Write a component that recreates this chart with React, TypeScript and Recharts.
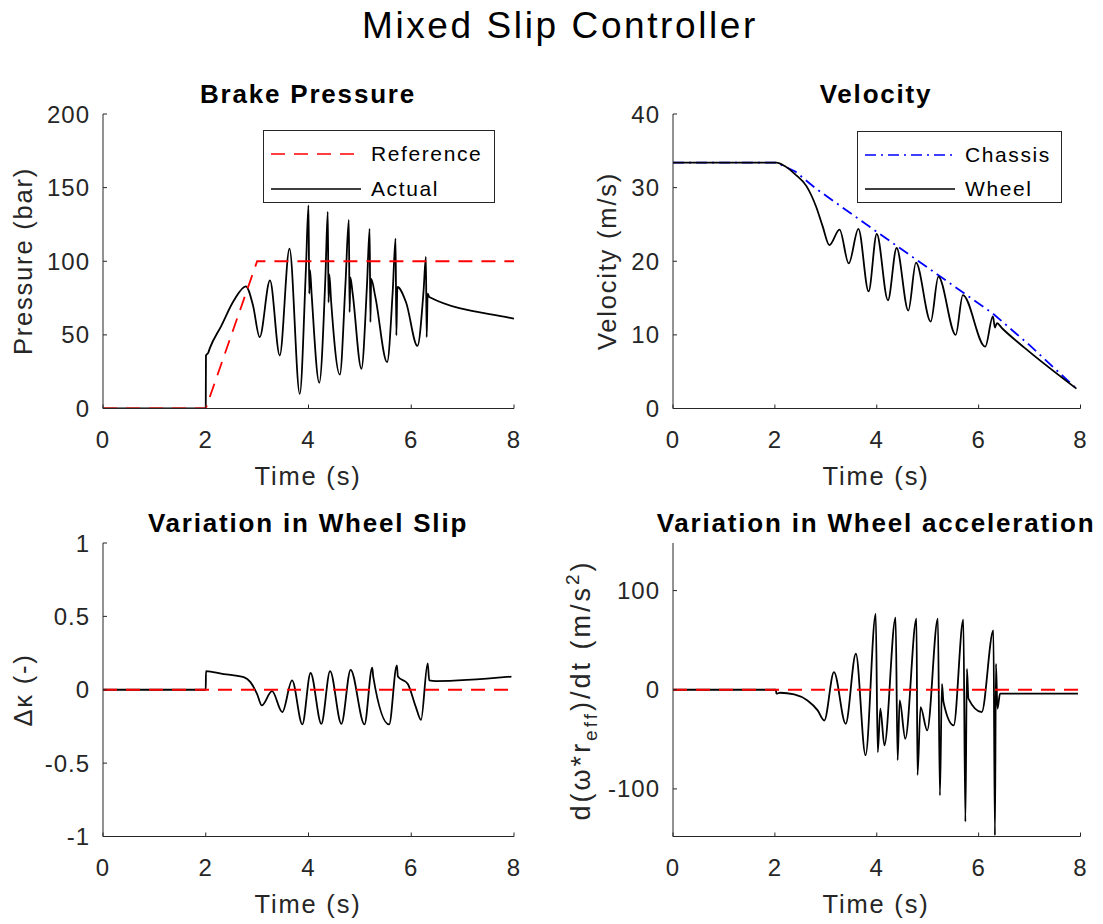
import React from "react";
import { Legend, Line, LineChart, XAxis, YAxis } from "recharts";

const FONT = '"Liberation Sans", Arial, Helvetica, sans-serif';
const INK = "#262626";

const timeTicks = [0, 2, 4, 6, 8];

// Brake pressure (bar)
const refTime = [0, 2, 3, 8];
const refPressure = [0, 0, 100, 100];
const pressureTime = [
  0, 2.0, 2.004, 2.05, 2.08, 2.3, 2.55, 2.78, 2.92, 3.05, 3.25, 3.44, 3.63, 3.83, 3.95, 4.0, 4.015, 4.03, 4.06, 4.21,
  4.33, 4.375, 4.39, 4.405, 4.44, 4.61, 4.72, 4.785, 4.8, 4.815, 4.86, 5.03, 5.14, 5.19, 5.205, 5.22, 5.3, 5.53, 5.64,
  5.695, 5.71, 5.73, 5.9, 6.12, 6.24, 6.285, 6.3, 6.32, 6.35, 7.9, 8.0,
];
const pressureActual = [
  0, 0, 36, 38, 41, 56, 73.5, 83, 70, 48.5, 87, 36, 108.6, 10, 95, 138, 78, 94, 78, 17.5, 90, 133.5, 72, 91, 73, 23,
  85, 128, 65.5, 89, 78, 27, 85, 122, 58.7, 88, 76, 31.5, 80, 115.4, 49.6, 82.5, 72, 42.5, 80, 103, 48.5, 78, 75.7,
  61.7, 61,
];

// Velocity (m/s)
const chassisTime = [0, 2.03, 2.4, 2.8, 4.0, 6.28, 7.0, 7.92];
const chassisSpeed = [33.4, 33.4, 32.2, 29.9, 24.0, 12.9, 8.6, 2.7];
const wheelTime = [
  0, 2.03, 2.2, 2.4, 2.62, 2.81, 2.94, 3.07, 3.27, 3.45, 3.64, 3.84, 4.0, 4.22, 4.39, 4.62, 4.77, 5.06, 5.21, 5.55,
  5.69, 6.13, 6.28, 6.32, 6.36, 6.46, 6.91, 7.92,
];
const wheelSpeed = [
  33.4, 33.4, 32.9, 31.8, 30.2, 27.4, 24.7, 22.2, 24.3, 19.7, 24.4, 15.9, 23.7, 14.7, 21.8, 13.3, 19.8, 11.8, 17.9,
  10.0, 15.4, 8.4, 12.5, 11.0, 11.6, 10.9, 8.2, 2.7,
];

// Wheel slip variation (-)
const zeroTime = [0, 8];
const zeroLine = [0, 0];
const slipTime = [
  0, 2.0, 2.004, 2.05, 2.4, 2.74, 2.87, 3.0, 3.09, 3.29, 3.49, 3.68, 3.88, 4.04, 4.25, 4.42, 4.64, 4.82, 5.09, 5.24,
  5.26, 5.57, 5.72, 5.74, 5.93, 6.09, 6.19, 6.32, 6.35, 6.48, 7.95,
];
const slipValue = [
  0, 0, 0.127, 0.125, 0.105, 0.086, 0.052, -0.03, -0.107, -0.01, -0.152, 0.064, -0.236, 0.114, -0.232, 0.127, -0.232,
  0.136, -0.236, 0.15, 0.09, -0.236, 0.166, 0.09, 0.041, -0.118, -0.205, 0.18, 0.064, 0.059, 0.09,
];

// Wheel acceleration variation (m/s^2)
const accTime = [
  0, 2.02, 2.03, 2.1, 2.38, 2.64, 2.84, 2.97, 3.16, 3.39, 3.59, 3.78, 3.98, 4.02, 4.07, 4.15, 4.37, 4.41, 4.45, 4.56,
  4.78, 4.8, 4.86, 4.99, 5.2, 5.24, 5.28, 5.31, 5.51, 5.7, 5.74, 5.77, 5.8, 6.06, 6.29, 6.32, 6.34, 6.37, 6.42, 7.95,
];
const accValue = [
  0, 0, -4, -3, -4.7, -10.8, -20.8, -31, 17.8, -34.3, 36.3, -66, 76.6, -63, -19, -56, 72.6, -71, -10.8, -49.4, 71.6,
  -86, -17.5, -41, 71.6, -106.6, 6, -12.4, -36, 70.6, -133, 21, -9, -22.5, 59.8, -147, 26, -19, -4, -4,
];

type Pt = { t: number; v: number };
const zip = (t: number[], v: number[]): Pt[] => t.map((x, i) => ({ t: x, v: v[i] }));

interface SeriesDef {
  name: string;
  points: Pt[];
  color: string;
  dash?: string;
  curve: "linear" | "monotoneX";
}

interface LegendBox {
  left: number;
  top: number;
  width: number;
  height: number;
  rows: number[];
}

interface PanelProps {
  x: number;
  y: number;
  w: number;
  h: number;
  yDomain: [number, number];
  yTicks: number[];
  series: SeriesDef[];
  legendItems?: SeriesDef[];
  legend?: LegendBox;
}

const PAD_L = 100;
const PAD_T = 20;
const PAD_R = 20;
const PAD_B = 60;

const RED_DASH = "14 9";
const BLUE_DASHDOT = "11 5 2 5";

const actual: SeriesDef = { name: "Actual", points: zip(pressureTime, pressureActual), color: "#000", curve: "monotoneX" };
const reference: SeriesDef = { name: "Reference", points: zip(refTime, refPressure), color: "#ff0000", dash: RED_DASH, curve: "linear" };
const chassis: SeriesDef = { name: "Chassis", points: zip(chassisTime, chassisSpeed), color: "#0000ff", dash: BLUE_DASHDOT, curve: "linear" };
const wheel: SeriesDef = { name: "Wheel", points: zip(wheelTime, wheelSpeed), color: "#000", curve: "monotoneX" };
const slip: SeriesDef = { name: "Slip", points: zip(slipTime, slipValue), color: "#000", curve: "monotoneX" };
const slipZero: SeriesDef = { name: "SlipRef", points: zip(zeroTime, zeroLine), color: "#ff0000", dash: RED_DASH, curve: "linear" };
const acc: SeriesDef = { name: "Acc", points: zip(accTime, accValue), color: "#000", curve: "monotoneX" };
const accZero: SeriesDef = { name: "AccRef", points: zip(zeroTime, zeroLine), color: "#ff0000", dash: RED_DASH, curve: "linear" };

const BoxLegend = ({ items, box }: { items: SeriesDef[]; box: LegendBox }) => (
  <div
    style={{
      position: "relative",
      width: box.width,
      height: box.height,
      boxSizing: "border-box",
      border: `1px solid ${INK}`,
      background: "#fff",
      fontFamily: FONT,
      fontSize: 21,
      letterSpacing: 1.6,
      color: "#000",
    }}
  >
    {items.map((it, i) => (
      <div
        key={it.name}
        style={{ position: "absolute", left: 0, top: box.rows[i] - 15, height: 30, display: "flex", alignItems: "center" }}
      >
        <svg width={107} height={30} style={{ display: "block" }}>
          <line x1={7} x2={97} y1={15} y2={15} stroke={it.color} strokeWidth={1.7} strokeDasharray={it.dash} />
        </svg>
        <span style={{ lineHeight: "30px" }}>{it.name}</span>
      </div>
    ))}
  </div>
);

const Panel = (p: PanelProps) => {
  const ox = p.x - PAD_L;
  const oy = p.y - PAD_T;
  return (
    <div style={{ position: "absolute", left: ox, top: oy }}>
      <LineChart
        width={p.w + PAD_L + PAD_R}
        height={p.h + PAD_T + PAD_B}
        margin={{ top: PAD_T, right: PAD_R, bottom: 0, left: 0 }}
      >
        <XAxis
          type="number"
          dataKey="t"
          domain={[0, 8]}
          ticks={timeTicks}
          interval={0}
          height={PAD_B}
          tickSize={-4}
          tickMargin={26.5}
          axisLine={{ stroke: INK }}
          tickLine={{ stroke: INK }}
          tick={{ fill: INK, fontSize: 24, fontFamily: FONT, letterSpacing: 1 }}
          allowDataOverflow
        />
        <YAxis
          type="number"
          domain={p.yDomain}
          ticks={p.yTicks}
          interval={0}
          width={PAD_L}
          tickSize={-4}
          tickMargin={17}
          axisLine={{ stroke: INK }}
          tickLine={{ stroke: INK }}
          tick={{ fill: INK, fontSize: 24, fontFamily: FONT, letterSpacing: 1 }}
          allowDataOverflow
        />
        {p.series.map((s) => (
          <Line
            key={s.name}
            data={s.points}
            dataKey="v"
            type={s.curve}
            stroke={s.color}
            strokeWidth={1.8}
            strokeDasharray={s.dash}
            dot={false}
            activeDot={false}
            isAnimationActive={false}
          />
        ))}
        {p.legend && p.legendItems && (
          <Legend
            layout="horizontal"
            verticalAlign="middle"
            align="center"
            wrapperStyle={{
              left: p.legend.left - ox,
              top: p.legend.top - oy,
              width: p.legend.width,
              height: p.legend.height,
            }}
            content={() => <BoxLegend items={p.legendItems!} box={p.legend!} />}
          />
        )}
      </LineChart>
    </div>
  );
};

const App = () => {
  const label = { fontFamily: FONT, fill: INK, fontSize: 25.5, letterSpacing: 1.8 } as const;
  const title = { fontFamily: FONT, fill: "#000", fontSize: 26, fontWeight: "bold", letterSpacing: 1.8 } as const;
  return (
    <div style={{ position: "absolute", left: 0, top: 0, width: 1103, height: 924, background: "#fff", overflow: "hidden" }}>
      <Panel
        x={102.5}
        y={114}
        w={411}
        h={294.5}
        yDomain={[0, 200]}
        yTicks={[0, 50, 100, 150, 200]}
        series={[actual, reference]}
        legendItems={[reference, actual]}
        legend={{ left: 263, top: 130, width: 232, height: 73, rows: [23, 58] }}
      />
      <Panel
        x={672.5}
        y={114}
        w={407.5}
        h={294.5}
        yDomain={[0, 40]}
        yTicks={[0, 10, 20, 30, 40]}
        series={[chassis, wheel]}
        legendItems={[chassis, wheel]}
        legend={{ left: 857, top: 131, width: 205, height: 72, rows: [23, 57] }}
      />
      <Panel
        x={102.5}
        y={543}
        w={411}
        h={293.5}
        yDomain={[-1, 1]}
        yTicks={[-1, -0.5, 0, 0.5, 1]}
        series={[slip, slipZero]}
      />
      <Panel
        x={672.5}
        y={543}
        w={407.5}
        h={293.5}
        yDomain={[-148, 148]}
        yTicks={[-100, 0, 100]}
        series={[acc, accZero]}
      />
      <svg width={1103} height={924} style={{ position: "absolute", left: 0, top: 0, pointerEvents: "none" }}>
        <text x={560} y={38} textAnchor="middle" fontFamily={FONT} fontSize={37} letterSpacing={2.6} fill="#000">
          Mixed Slip Controller
        </text>
        <text x={308} y={103} textAnchor="middle" {...title}>Brake Pressure</text>
        <text x={876} y={103} textAnchor="middle" {...title}>Velocity</text>
        <text x={308} y={532} textAnchor="middle" {...title}>Variation in Wheel Slip</text>
        <text x={876} y={532} textAnchor="middle" {...title}>Variation in Wheel acceleration</text>

        <text x={308} y={485} textAnchor="middle" {...label}>Time (s)</text>
        <text x={876} y={485} textAnchor="middle" {...label}>Time (s)</text>
        <text x={308} y={913} textAnchor="middle" {...label}>Time (s)</text>
        <text x={876} y={913} textAnchor="middle" {...label}>Time (s)</text>

        <text transform="translate(32,261) rotate(-90)" textAnchor="middle" {...label}>Pressure (bar)</text>
        <text transform="translate(616,261) rotate(-90)" textAnchor="middle" {...label}>Velocity (m/s)</text>
        <text transform="translate(32,690) rotate(-90)" textAnchor="middle" {...label}>Δκ (-)</text>
        <text
          transform="translate(590,690) rotate(-90)"
          textAnchor="middle"
          fontFamily={FONT}
          fill={INK}
          fontSize={27}
          letterSpacing={3}
        >
          d(ω*r
          <tspan dy={7} fontSize={19}>eff</tspan>
          <tspan dy={-7}>)/dt (m/s</tspan>
          <tspan dy={-11} fontSize={19}>2</tspan>
          <tspan dy={11}>)</tspan>
        </text>
      </svg>
    </div>
  );
};

export default App;
